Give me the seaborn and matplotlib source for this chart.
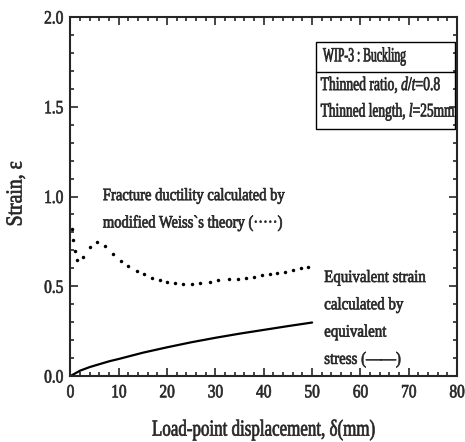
import matplotlib
matplotlib.use("Agg")
import matplotlib.pyplot as plt
import seaborn as sns
import pandas as pd
from matplotlib.ticker import MultipleLocator
from matplotlib.patches import Rectangle
from matplotlib.lines import Line2D
from matplotlib.patheffects import AbstractPathEffect
from matplotlib.transforms import Affine2D

# ---- data ----
frac_x = [0.35, 0.62, 0.83, 1.3, 2.6, 4.1, 5.55, 7.2, 8.8, 10.4, 12.0, 13.7, 15.2, 16.8,
          18.5, 20.0, 21.6, 23.2, 25.1, 26.8, 28.8, 30.6, 32.7, 34.6, 36.3, 37.9, 39.6,
          41.2, 42.8, 44.3, 46.0, 47.6, 49.2]
frac_y = [0.817, 0.76, 0.694, 0.646, 0.661, 0.717, 0.744, 0.724, 0.678, 0.639, 0.613,
          0.585, 0.567, 0.544, 0.533, 0.526, 0.517, 0.511, 0.514, 0.52, 0.526, 0.533,
          0.539, 0.542, 0.548, 0.553, 0.561, 0.567, 0.572, 0.579, 0.588, 0.6, 0.61]
equiv_x = [0, 1, 2, 4, 6, 8, 10, 15, 20, 25, 30, 35, 40, 45, 50]
equiv_y = [0.0, 0.015, 0.03, 0.05, 0.066, 0.082, 0.095, 0.13, 0.16, 0.188, 0.213,
           0.236, 0.257, 0.278, 0.298]

xlabel = "Load-point displacement, \u03b4(mm)"
ylabel = "Strain, \u03b5"
box_title = "WIP-3 : Buckling"
box_line1 = "Thinned ratio, $d/t$=0.8"
box_line2 = "Thinned length, $l$=25mm"
frac_label = ["Fracture ductility calculated by",
              "modified Weiss`s theory (\u00b7\u00b7\u00b7\u00b7\u00b7)"]
equiv_label = ["Equivalent strain", "calculated by", "equivalent", "stress (\u2014\u2014)"]


class Condense(AbstractPathEffect):
    """Horizontally condense glyphs (narrow Times look)."""
    def __init__(self, sx, anchor="left", stroke=0.5):
        super().__init__()
        self.sx, self.anchor, self.stroke = sx, anchor, stroke

    def draw_path(self, renderer, gc, tpath, affine, rgbFace=None):
        ext = tpath.get_extents()
        if self.anchor == "center":
            cx = 0.5 * (ext.x0 + ext.x1)
        elif self.anchor == "right":
            cx = ext.x1
        else:
            cx = 0.0
        t = Affine2D().translate(-cx, 0).scale(self.sx, 1).translate(cx, 0)
        gc0 = renderer.new_gc()
        gc0.copy_properties(gc)
        if rgbFace is not None and self.stroke > 0:
            gc0.set_foreground(rgbFace)
            gc0.set_linewidth(self.stroke)
        renderer.draw_path(gc0, tpath, t + affine, rgbFace)
        gc0.restore()


sns.set_style("ticks")
plt.rcParams["font.family"] = ["Liberation Serif", "DejaVu Serif"]
plt.rcParams["mathtext.fontset"] = "custom"
plt.rcParams["mathtext.rm"] = "Liberation Serif"
plt.rcParams["mathtext.it"] = "Liberation Serif:italic"

fig = plt.figure(figsize=(4.65, 4.42), dpi=100)
ax = fig.add_axes([0.1516, 0.1493, 0.8314, 0.8122])

df_f = pd.DataFrame({"x": frac_x, "y": frac_y})
df_e = pd.DataFrame({"x": equiv_x, "y": equiv_y})
sns.lineplot(data=df_e, x="x", y="y", ax=ax, color="black", lw=1.6, sort=False)
sns.lineplot(data=df_f, x="x", y="y", ax=ax, color="black", linestyle="", marker="o",
             markersize=2.5, markeredgewidth=0, sort=False)

ax.set_xlim(0, 80)
ax.set_ylim(0, 2.0)
ax.xaxis.set_major_locator(MultipleLocator(10))
ax.xaxis.set_minor_locator(MultipleLocator(2))
ax.yaxis.set_major_locator(MultipleLocator(0.5))
ax.yaxis.set_minor_locator(MultipleLocator(0.1))
ax.set_xticklabels([f"{int(v)}" for v in ax.get_xticks()])
ax.set_yticklabels([f"{v:.1f}" for v in ax.get_yticks()])
ax.tick_params(which="both", direction="in", top=True, right=True, labelsize=13.5,
               width=1.2)
ax.tick_params(axis="x", pad=6)
ax.tick_params(axis="y", pad=5)
ax.tick_params(which="major", length=6)
ax.tick_params(which="minor", length=3)
for lab in ax.get_xticklabels():
    lab.set_path_effects([Condense(0.82, "center")])
for lab in ax.get_yticklabels():
    lab.set_path_effects([Condense(0.82, "right")])
for s in ax.spines.values():
    s.set_linewidth(1.5)
ax.set_xlabel("")
ax.set_ylabel("")

# axis labels (condensed)
fig.text(263.5 / 465, 1 - 430 / 442, xlabel, fontsize=16.5, ha="center", va="center",
         path_effects=[Condense(0.74, "center")])
fig.text(16 / 465, 1 - 194 / 442, ylabel, fontsize=16.5, rotation=90, ha="center",
         va="center", path_effects=[Condense(0.86, "center")])

# info box
x0, x1 = 0.635, 0.995
yt, ysep, yb = 0.931, 0.848, 0.688
ax.add_patch(Rectangle((x0, yb), x1 - x0, yt - yb, transform=ax.transAxes,
                       fill=False, lw=1.0, color="black"))
ax.add_line(Line2D([x0, x1], [ysep, ysep], transform=ax.transAxes, lw=1.0, color="black"))
ax.text(0.653, 0.889, box_title, transform=ax.transAxes, fontsize=14.5, va="center",
        path_effects=[Condense(0.58)])
ax.text(0.647, 0.81, box_line1, transform=ax.transAxes, fontsize=14, va="center",
        path_effects=[Condense(0.7)])
ax.text(0.647, 0.735, box_line2, transform=ax.transAxes, fontsize=14, va="center",
        path_effects=[Condense(0.69)])

for i, t in enumerate(frac_label):
    ax.text(6.7, 1.002 - i * 0.152, t, fontsize=12.5, va="center",
            path_effects=[Condense(0.84)])
for i, t in enumerate(equiv_label):
    ax.text(52.5, 0.546 - i * 0.152, t, fontsize=12.5, va="center",
            path_effects=[Condense(0.86)])

fig.savefig("out.png", dpi=100)
